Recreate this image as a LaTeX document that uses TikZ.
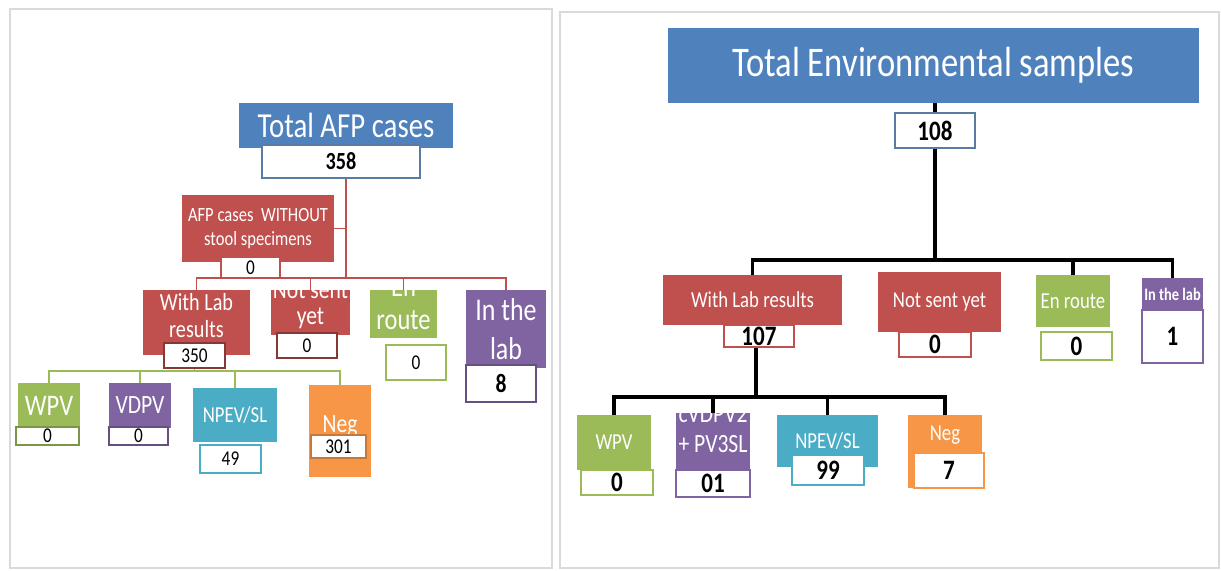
\documentclass[tikz,border=0pt]{standalone}
\usepackage{fontspec}
\setmainfont{Carlito}[FakeStretch=0.82]
\definecolor{ofBlue}{HTML}{4F81BD}
\definecolor{ofRed}{HTML}{C0504D}
\definecolor{ofGreen}{HTML}{9BBB59}
\definecolor{ofPurple}{HTML}{8064A2}
\definecolor{ofAqua}{HTML}{4BACC6}
\definecolor{ofOrange}{HTML}{F79646}
\definecolor{edgeBlue}{HTML}{5A7CA3}
\definecolor{frameGray}{HTML}{DADADA}
\newcommand{\fsz}[2]{\fontsize{#1}{#2}\selectfont}
\tikzset{
  catbox/.style={fill=#1, text=white, align=center, inner sep=1pt},
  numbox/.style={fill=white, draw=#1, line width=1.1pt, text=black, inner sep=1pt},
  link/.style={draw=#1, line width=1.1pt},
  panel/.style={draw=frameGray, line width=1.4pt},
}
\begin{document}
\begin{tikzpicture}[x=0.02cm, y=-0.02cm]
    \useasboundingbox (0,0) rectangle (1221,571);
    % panels
    \draw[panel] (10,9) rectangle (552,568);
    \draw[panel] (560,12) rectangle (1219,568);

    % left root
    \node[catbox=ofBlue, minimum width=4.28cm, minimum height=0.9cm, font=\fsz{20}{22}] (afpTitle) at (346,125.5) {Total AFP cases};
    \node[numbox=edgeBlue, minimum width=3.16cm, minimum height=0.66cm, font=\bfseries\fsz{14}{16}] (afpTotal) at (341,161.5) {358};
    \node[catbox=ofRed, minimum width=3.04cm, minimum height=1.34cm, font=\fsz{11.5}{14}] (noStool) at (258,228.5) {AFP cases\ \ WITHOUT\\stool specimens};
    \node[numbox=ofRed, minimum width=1.18cm, minimum height=0.42cm, font=\fsz{12}{14}] (noStoolNum) at (250.5,267.5) {0};

    % left level1
    \node[catbox=ofRed, minimum width=2.14cm, minimum height=1.3cm,
          label={[text=white, font=\fsz{14}{15}, align=center, yshift=4pt]center:{With Lab\\results}}] (labRes) at (196.5,322.5) {};
    \node[numbox=ofRed!70!black, minimum width=1.22cm, minimum height=0.5cm, font=\fsz{12}{14}] (labResNum) at (194.5,355.5) {350};
    \node[catbox=ofRed, minimum width=1.58cm, minimum height=0.9cm,
          label={[text=white, font=\fsz{15}{15}, align=center, yshift=4pt]center:{Not sent\\yet}}] (notSent) at (310.5,312.5) {};
    \node[numbox=ofRed!70!black, minimum width=1.2cm, minimum height=0.5cm, font=\fsz{12}{14}] (notSentNum) at (307,345.5) {0};
    \node[catbox=ofGreen, minimum width=1.34cm, minimum height=0.96cm,
          label={[text=white, font=\fsz{17}{19}, align=center, yshift=6pt]center:{En\\route}}] (enRoute) at (403.5,314) {};
    \node[numbox=ofGreen, minimum width=1.2cm, minimum height=0.7cm, font=\fsz{12}{14}] (enRouteNum) at (416,362.5) {0};
    \node[catbox=ofPurple, minimum width=1.6cm, minimum height=1.56cm, font=\fsz{18}{22}] (inLab) at (506,329) {In the\\lab};
    \node[numbox=ofPurple!80!black, minimum width=1.4cm, minimum height=0.74cm, font=\bfseries\fsz{15}{17}] (inLabNum) at (501,383.5) {8};

    % left level2
    \node[catbox=ofGreen, minimum width=1.24cm, minimum height=0.9cm, font=\fsz{17}{19}] (wpvL) at (49,405.5) {WPV};
    \node[numbox=ofGreen!80!black, minimum width=1.26cm, minimum height=0.36cm, font=\fsz{12}{14}] (wpvLNum) at (47.5,436) {0};
    \node[catbox=ofPurple, minimum width=1.24cm, minimum height=0.9cm, font=\fsz{15}{17}] (vdpvL) at (140,405.5) {VDPV};
    \node[numbox=ofPurple!80!black, minimum width=1.18cm, minimum height=0.36cm, font=\fsz{12}{14}] (vdpvLNum) at (138.5,436) {0};
    \node[catbox=ofAqua, minimum width=1.68cm, minimum height=1.08cm, font=\fsz{13}{15}] (npevL) at (235,415) {NPEV/SL};
    \node[numbox=ofAqua, minimum width=1.22cm, minimum height=0.56cm, font=\fsz{12}{14}] (npevLNum) at (230.5,459) {49};
    \node[catbox=ofOrange, minimum width=1.24cm, minimum height=1.84cm,
          label={[text=white, font=\fsz{15}{17}, anchor=north, yshift=-14pt]north:Neg}] (negL) at (340,431) {};
    \node[numbox=ofOrange!80!black, minimum width=1.1cm, minimum height=0.46cm, font=\fsz{12}{14}] (negLNum) at (338.5,446.5) {301};

    % left links
    \coordinate (afpBar) at (346,278);
    \draw[link=ofRed] (afpTotal.south -| afpBar) -- (afpBar);
    \draw[link=ofRed] (noStool.east) -- (noStool.east -| afpBar);
    \draw[link=ofRed] (afpBar) -| (labRes.north);
    \draw[link=ofRed] (afpBar) -| (notSent.north);
    \draw[link=ofRed] (afpBar) -| (enRoute.north);
    \draw[link=ofRed] (afpBar) -| (inLab.north);
    \coordinate (labBar) at (194.5,371);
    \draw[link=ofGreen] (labResNum.south) -- (labBar);
    \draw[link=ofGreen] (labBar) -| (wpvL.north);
    \draw[link=ofGreen] (labBar) -| (vdpvL.north);
    \draw[link=ofGreen] (labBar) -| (npevL.north);
    \draw[link=ofGreen] (labBar) -| (negL.north);

    % right root
    \node[catbox=ofBlue, minimum width=10.62cm, minimum height=1.5cm, font=\fsz{24}{26}] (envTitle) at (933.5,65.5) {Total Environmental samples};
    \node[numbox=edgeBlue, minimum width=1.6cm, minimum height=0.7cm, font=\bfseries\fsz{16}{18}] (envTotal) at (935,130.5) {108};

    % right level1
    \node[catbox=ofRed, minimum width=3.58cm, minimum height=1.0cm, font=\fsz{13}{15}] (labResR) at (752.5,300) {With Lab results};
    \node[numbox=ofRed, minimum width=1.4cm, minimum height=0.44cm, font=\bfseries\fsz{16}{18}] (labResRNum) at (759,336) {107};
    \node[catbox=ofRed, minimum width=2.46cm, minimum height=1.2cm, font=\fsz{13}{15}] (notSentR) at (939.5,302) {Not sent yet};
    \node[numbox=ofRed, minimum width=1.44cm, minimum height=0.5cm, font=\bfseries\fsz{16}{18}] (notSentRNum) at (935,344.5) {0};
    \node[catbox=ofGreen, minimum width=1.48cm, minimum height=1.04cm, font=\fsz{13}{15}] (enRouteR) at (1073,301) {En route};
    \node[numbox=ofGreen, minimum width=1.42cm, minimum height=0.56cm, font=\bfseries\fsz{16}{18}] (enRouteRNum) at (1076.5,346) {0};
    \node[catbox=ofPurple, minimum width=1.22cm, minimum height=0.64cm, font=\bfseries\fsz{10}{12}] (inLabR) at (1172.5,294) {In the lab};
    \node[numbox=ofPurple, minimum width=1.22cm, minimum height=1.06cm, font=\bfseries\fsz{16}{18}] (inLabRNum) at (1172.5,336.5) {1};

    % right level2
    \node[catbox=ofGreen, minimum width=1.48cm, minimum height=1.1cm, font=\fsz{13}{15}] (wpvR) at (614,442.5) {WPV};
    \node[numbox=ofGreen, minimum width=1.44cm, minimum height=0.5cm, font=\bfseries\fsz{16}{18}] (wpvRNum) at (617,482.5) {0};
    \node[catbox=ofPurple, minimum width=1.48cm, minimum height=1.14cm,
          label={[text=white, font=\fsz{15}{17}, align=center, yshift=7pt]center:{cVDPV2\\+ PV3SL}}] (cvdpvR) at (713,441.5) {};
    \node[numbox=ofPurple, minimum width=1.48cm, minimum height=0.54cm, font=\bfseries\fsz{16}{18}] (cvdpvRNum) at (713,483.5) {01};
    \node[catbox=ofAqua, minimum width=2.02cm, minimum height=1.04cm, font=\fsz{13}{15}] (npevR) at (827.5,441) {NPEV/SL};
    \node[numbox=ofAqua, minimum width=1.44cm, minimum height=0.6cm, font=\bfseries\fsz{16}{18}] (npevRNum) at (828,470) {99};
    \node[catbox=ofOrange, minimum width=1.48cm, minimum height=1.46cm,
          label={[text=white, font=\fsz{13}{15}, anchor=north, yshift=-3pt]north:Neg}] (negR) at (945,451.5) {};
    \node[numbox=ofOrange, minimum width=1.4cm, minimum height=0.7cm, font=\bfseries\fsz{16}{18}] (negRNum) at (949,470.5) {7};

    % right links
    \draw[link=black, line width=2pt] (envTitle.south -| envTotal.north) -- (envTotal.north);
    \coordinate (envBar) at (935,260);
    \draw[link=black, line width=2.2pt] (envTotal.south) -- (envBar);
    \draw[link=black, line width=2.2pt] (envBar) -| (labResR.north);
    \draw[link=black, line width=2.2pt] (envBar) -| (enRouteR.north);
    \draw[link=black, line width=2.2pt] (envBar) -| (inLabR.north);
    \coordinate (resBar) at (756,397);
    \draw[link=black, line width=2.2pt] (labResRNum.south -| resBar) -- (resBar);
    \draw[link=black, line width=2.2pt] (resBar) -| (wpvR.north);
    \draw[link=black, line width=2.2pt] (resBar) -| (cvdpvR.north);
    \draw[link=black, line width=2.2pt] (resBar) -| (npevR.north);
    \draw[link=black, line width=2.2pt] (resBar) -| (negR.north);
\end{tikzpicture}
\end{document}
